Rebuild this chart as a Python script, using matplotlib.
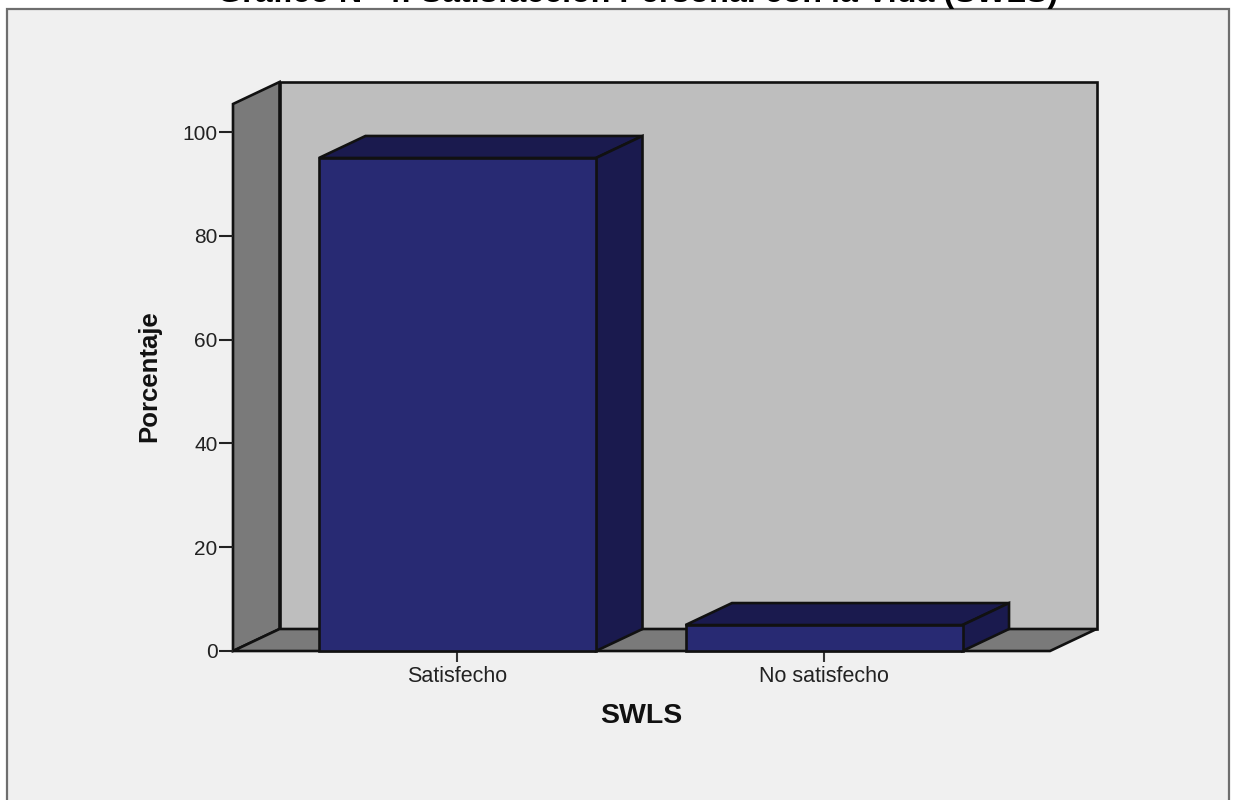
import matplotlib
matplotlib.use('Agg')
import matplotlib.pyplot as plt
from matplotlib.patches import Polygon, Rectangle

categories = ['Satisfecho', 'No satisfecho']
values = [95, 5]
yticks = [0, 20, 40, 60, 80, 100]

W, H = 1233, 800
DX = 46.5 / 366.5   # depth of the 3D effect, x data units
DY = 22 / 5.19      # depth of the 3D effect, y data units
bar_w = 277 / 366.5
x0, x1 = -0.6125, 1.6166
ymax = 105.4

plt.rcParams['font.family'] = ['Liberation Sans', 'DejaVu Sans']

fig = plt.figure(figsize=(W / 100, H / 100), dpi=100, facecolor='white')

# grey panel with frame, runs off the bottom of the picture
fig.add_artist(Rectangle((7 / W, -0.02), (1229 - 7) / W, 1.02 - 8.5 / H, transform=fig.transFigure,
                         facecolor='#f0f0f0', edgecolor='#6e6e6e', linewidth=1.6, zorder=-5))
fig.text(638 / W, 1 - 2 / H, 'Gráfico Nº 4: Satisfacción Personal con la Vida (SWLS)', ha='center',
         va='baseline', fontsize=23.2, fontweight='bold', color='black')

ax = fig.add_axes([233 / W, 1 - 651 / H, (1050 - 233) / W, (651 - 104) / H])
ax.set_xlim(x0, x1)
ax.set_ylim(0, ymax)
ax.patch.set_alpha(0)
for s in ['top', 'right', 'left', 'bottom']:
    ax.spines[s].set_visible(False)


def poly(pts, fc, z=1):
    ax.add_patch(Polygon(pts, closed=True, facecolor=fc, edgecolor='#111111', linewidth=1.9,
                         joinstyle='miter', clip_on=False, zorder=z))


# walls of the box
poly([(x0 + DX, DY), (x1 + DX, DY), (x1 + DX, ymax + DY), (x0 + DX, ymax + DY)], '#bebebe')
poly([(x0, 0), (x0 + DX, DY), (x0 + DX, ymax + DY), (x0, ymax)], '#7a7a7a')
poly([(x0, 0), (x1, 0), (x1 + DX, DY), (x0 + DX, DY)], '#7a7a7a')

for i, v in enumerate(values):
    l, r = i - bar_w / 2, i + bar_w / 2
    poly([(l, v), (r, v), (r + DX, v + DY), (l + DX, v + DY)], '#1a1a4e', 3)
    poly([(r, 0), (r + DX, DY), (r + DX, v + DY), (r, v)], '#1a1a4e', 3)
    poly([(l, 0), (r, 0), (r, v), (l, v)], '#282a73', 4)

ax.set_xticks(range(len(categories)))
ax.set_xticklabels(categories)
ax.set_yticks(yticks)
ax.tick_params(axis='x', length=8, width=1.5, color='#333333', labelsize=15.5, labelcolor='#222222', pad=3)
ax.tick_params(axis='y', length=10, width=1.5, color='#222222', labelsize=15, labelcolor='#222222', pad=1)

fig.text(641 / W, 1 - 716 / H, 'SWLS', ha='center', va='center', fontsize=20.5, fontweight='bold', color='#111111')
fig.text(149 / W, 1 - 376 / H, 'Porcentaje', ha='center', va='center', rotation=90, fontsize=18.5,
         fontweight='bold', color='#111111')

fig.savefig('out.png', dpi=100, facecolor='white')
